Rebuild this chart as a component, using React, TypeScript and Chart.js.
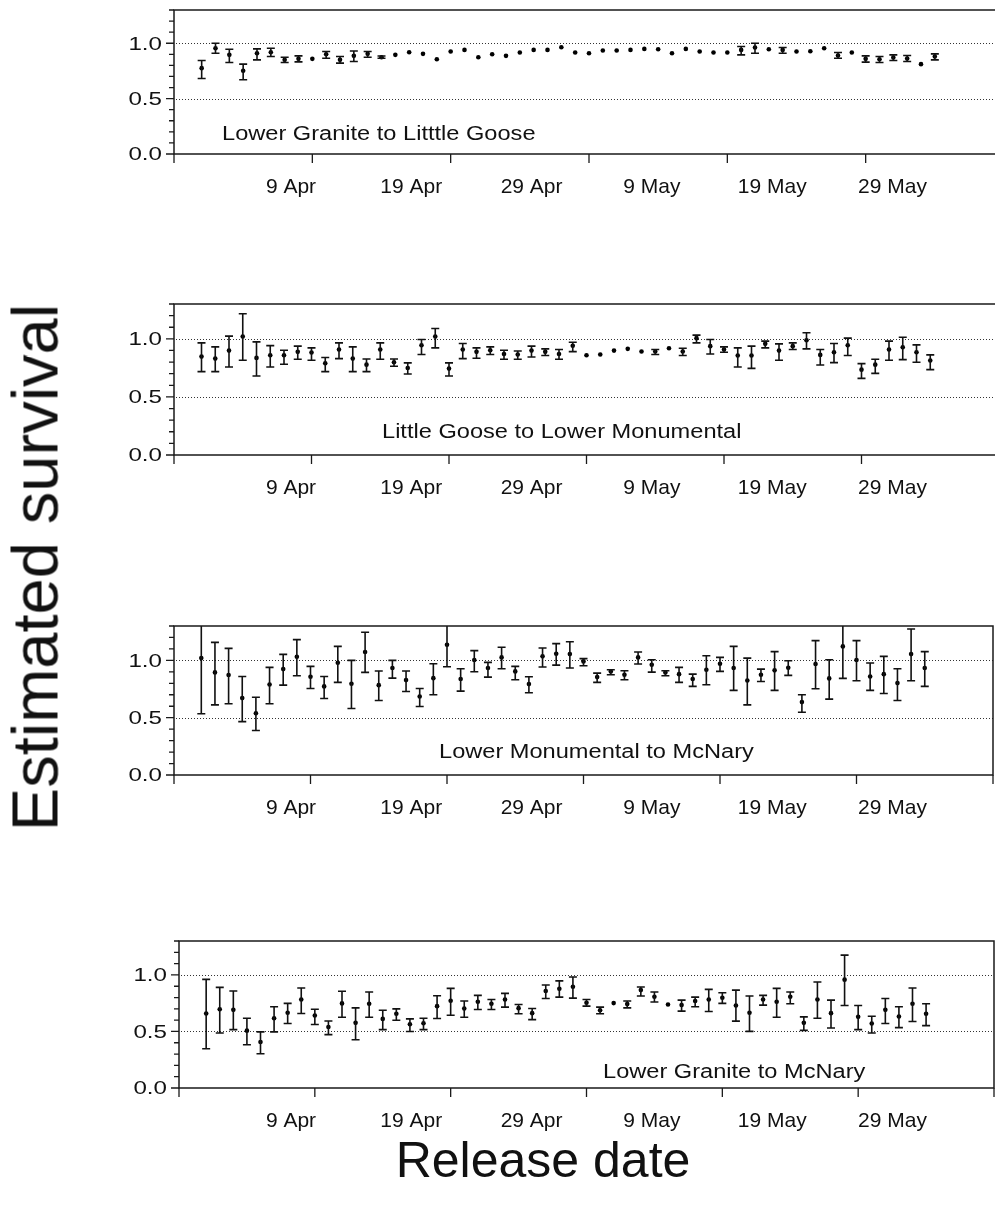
import React, { useEffect, useRef } from "react";
import { Chart, registerables } from "chart.js";

Chart.register(...registerables);

// ---------- data ----------
const releaseDays = [
  2, 3, 4, 5, 6, 7, 8, 9, 10, 11, 12, 13, 14, 15, 16, 17, 18, 19, 20, 21, 22, 23, 24, 25, 26, 27, 28,
  29, 30, 31, 32, 33, 34, 35, 36, 37, 38, 39, 40, 41, 42, 43, 44, 45, 46, 47, 48, 49, 50, 51, 52, 53,
  54, 55,
];

const xTickValues = [0, 10, 20, 30, 40, 50, 60];
const xTickLabels = ["9 Apr", "19 Apr", "29 Apr", "9 May", "19 May", "29 May"];
const yTickLabels = ["0.0", "0.5", "1.0"];
const yLabelValues = [0, 0.5, 1.0];
const refLineValues = [0.5, 1.0];

const panelNames = [
  "Lower Granite to Litttle Goose",
  "Little Goose to Lower Monumental",
  "Lower Monumental to McNary",
  "Lower Granite to McNary",
];

// Panel 1: Lower Granite to Little Goose
const est1 = [
  0.775, 0.955, 0.895, 0.751, 0.91, 0.919, 0.85, 0.859, 0.859, 0.9,
  0.85, 0.886, 0.904, 0.874, 0.895, 0.919, 0.904, 0.856, 0.925, 0.94,
  0.874, 0.9, 0.886, 0.916, 0.94, 0.94, 0.964, 0.916, 0.91, 0.934,
  0.934, 0.94, 0.949, 0.946, 0.91, 0.949, 0.925, 0.916, 0.916, 0.94,
  0.961, 0.946, 0.94, 0.925, 0.928, 0.955, 0.889, 0.916, 0.859, 0.856,
  0.871, 0.862, 0.811, 0.88,
];
const lo1 = [
  0.682, 0.91, 0.826, 0.67, 0.85, 0.88, 0.826, 0.832, 0.859, 0.865,
  0.82, 0.835, 0.874, 0.865, 0.895, 0.919, 0.904, 0.856, 0.925, 0.94,
  0.874, 0.9, 0.886, 0.916, 0.94, 0.94, 0.964, 0.916, 0.91, 0.934,
  0.934, 0.94, 0.949, 0.946, 0.91, 0.949, 0.925, 0.916, 0.916, 0.895,
  0.91, 0.946, 0.91, 0.925, 0.928, 0.955, 0.865, 0.916, 0.829, 0.826,
  0.844, 0.835, 0.811, 0.85,
];
const hi1 = [
  0.844, 1.0, 0.946, 0.811, 0.949, 0.955, 0.874, 0.886, 0.859, 0.925,
  0.88, 0.93, 0.925, 0.885, 0.895, 0.919, 0.904, 0.856, 0.925, 0.94,
  0.874, 0.9, 0.886, 0.916, 0.94, 0.94, 0.964, 0.916, 0.91, 0.934,
  0.934, 0.94, 0.949, 0.946, 0.91, 0.949, 0.925, 0.916, 0.916, 0.97,
  1.0, 0.946, 0.961, 0.925, 0.928, 0.955, 0.916, 0.916, 0.886, 0.88,
  0.895, 0.889, 0.811, 0.904,
];

// Panel 2: Little Goose to Lower Monumental
const est2 = [
  0.847, 0.83, 0.899, 1.02, 0.836, 0.859, 0.859, 0.888, 0.882, 0.79,
  0.908, 0.83, 0.778, 0.908, 0.798, 0.749, 0.945, 1.02, 0.744, 0.908,
  0.888, 0.902, 0.87, 0.865, 0.899, 0.888, 0.87, 0.94, 0.859, 0.865,
  0.899, 0.914, 0.891, 0.891, 0.919, 0.891, 1.006, 0.937, 0.908, 0.856,
  0.856, 0.957, 0.899, 0.937, 0.988, 0.862, 0.885, 0.945, 0.735, 0.778,
  0.908, 0.928, 0.885, 0.813,
];
const lo2 = [
  0.718, 0.718, 0.758, 0.816, 0.68, 0.758, 0.781, 0.824, 0.816, 0.718,
  0.83, 0.718, 0.718, 0.824, 0.764, 0.697, 0.865, 0.922, 0.68, 0.83,
  0.833, 0.865, 0.824, 0.824, 0.844, 0.856, 0.824, 0.89, 0.859, 0.865,
  0.899, 0.914, 0.891, 0.865, 0.919, 0.856, 0.965, 0.87, 0.885, 0.758,
  0.746, 0.922, 0.816, 0.908, 0.914, 0.775, 0.795, 0.856, 0.66, 0.703,
  0.816, 0.821, 0.798, 0.735,
];
const hi2 = [
  0.965, 0.931, 1.023, 1.216, 0.974, 0.942, 0.902, 0.937, 0.922, 0.839,
  0.965, 0.931, 0.827, 0.965, 0.827, 0.793, 0.994, 1.089, 0.793, 0.96,
  0.922, 0.931, 0.902, 0.896, 0.937, 0.914, 0.908, 0.971, 0.859, 0.865,
  0.899, 0.914, 0.891, 0.908, 0.919, 0.919, 1.032, 0.994, 0.931, 0.922,
  0.937, 0.98, 0.957, 0.965, 1.052, 0.908, 0.96, 1.006, 0.787, 0.824,
  0.98, 1.014, 0.948, 0.862,
];

// Panel 3: Lower Monumental to McNary
const est3 = [
  1.02, 0.895, 0.872, 0.671, 0.539, 0.79, 0.924, 1.032, 0.857, 0.773,
  0.98, 0.796, 1.073, 0.784, 0.933, 0.828, 0.685, 0.845, 1.137, 0.837,
  1.003, 0.933, 1.026, 0.904, 0.793, 1.035, 1.058, 1.055, 0.991, 0.854,
  0.904, 0.875, 1.026, 0.962, 0.895, 0.88, 0.837, 0.918, 0.971, 0.933,
  0.825, 0.875, 0.913, 0.936, 0.636, 0.968, 0.843, 1.122, 1.003, 0.86,
  0.88, 0.802, 1.055, 0.933,
];
const lo3 = [
  0.534, 0.612, 0.621, 0.466, 0.388, 0.621, 0.784, 0.866, 0.755, 0.668,
  0.808, 0.58, 0.895, 0.65, 0.845, 0.729, 0.598, 0.7, 0.945, 0.732,
  0.901, 0.854, 0.927, 0.831, 0.717, 0.942, 0.959, 0.933, 0.953, 0.808,
  0.875, 0.831, 0.968, 0.898, 0.866, 0.808, 0.773, 0.787, 0.904, 0.738,
  0.612, 0.816, 0.738, 0.869, 0.548, 0.752, 0.662, 0.843, 0.822, 0.738,
  0.711, 0.65, 0.822, 0.773,
];
const hi3 = [
  1.5, 1.157, 1.105, 0.86, 0.679, 0.939, 1.052, 1.181, 0.948, 0.86,
  1.122, 1.0, 1.245, 0.907, 1.0, 0.907, 0.755, 0.971, 1.5, 0.927,
  1.085, 0.983, 1.114, 0.948, 0.857, 1.108, 1.146, 1.163, 1.015, 0.889,
  0.918, 0.91, 1.073, 1.006, 0.91, 0.939, 0.88, 1.041, 1.026, 1.122,
  1.02, 0.924, 1.076, 0.997, 0.7, 1.172, 1.006, 1.5, 1.172, 0.977,
  1.035, 0.927, 1.274, 1.076,
];

// Panel 4: Lower Granite to McNary
const est4 = [
  0.659, 0.697, 0.691, 0.507, 0.407, 0.617, 0.665, 0.783, 0.641, 0.54,
  0.748, 0.576, 0.745, 0.611, 0.656, 0.564, 0.573, 0.724, 0.772, 0.703,
  0.763, 0.745, 0.783, 0.706, 0.662, 0.858, 0.878, 0.896, 0.754, 0.688,
  0.751, 0.742, 0.866, 0.807, 0.739, 0.733, 0.769, 0.783, 0.798, 0.73,
  0.665, 0.783, 0.763, 0.807, 0.576, 0.783, 0.662, 0.958, 0.629, 0.57,
  0.691, 0.632, 0.745, 0.656,
];
const lo4 = [
  0.347, 0.487, 0.516, 0.383, 0.303, 0.496, 0.57, 0.659, 0.561, 0.472,
  0.626, 0.427, 0.626, 0.516, 0.599, 0.499, 0.516, 0.614, 0.644, 0.626,
  0.694, 0.694, 0.715, 0.656, 0.605, 0.792, 0.804, 0.795, 0.724, 0.656,
  0.751, 0.709, 0.813, 0.76, 0.739, 0.68, 0.718, 0.677, 0.748, 0.591,
  0.501, 0.733, 0.626, 0.745, 0.51, 0.617, 0.531, 0.73, 0.516, 0.487,
  0.57, 0.534, 0.588, 0.552,
];
const hi4 = [
  0.961, 0.89, 0.858, 0.617, 0.496, 0.718, 0.748, 0.884, 0.697, 0.593,
  0.855, 0.709, 0.849, 0.688, 0.7, 0.611, 0.617, 0.816, 0.881, 0.769,
  0.819, 0.783, 0.837, 0.739, 0.703, 0.911, 0.947, 0.982, 0.783, 0.715,
  0.751, 0.769, 0.893, 0.849, 0.739, 0.777, 0.804, 0.872, 0.843, 0.866,
  0.813, 0.819, 0.881, 0.849, 0.629, 0.938, 0.777, 1.175, 0.73, 0.635,
  0.792, 0.718, 0.884, 0.745,
];

// ---------- layout ----------
const FONT = '"Liberation Sans", Arial, Helvetica, sans-serif';
const CANVAS_W = 1012;
const PAD_TOP = 15;
const PAD_BOTTOM = 55;

const panels = [
  { name: panelNames[0], est: est1, lo: lo1, hi: hi1, top: 10, bottom: 154, left: 174, right: 1004, labelDx: 48, labelDy: 130, tickLabelShift: 0 },
  { name: panelNames[1], est: est2, lo: lo2, hi: hi2, top: 304, bottom: 455, left: 174, right: 999, labelDx: 208, labelDy: 134, tickLabelShift: 0 },
  { name: panelNames[2], est: est3, lo: lo3, hi: hi3, top: 626, bottom: 775, left: 174, right: 993, labelDx: 265, labelDy: 132, tickLabelShift: 0 },
  { name: panelNames[3], est: est4, lo: lo4, hi: hi4, top: 941, bottom: 1088, left: 179, right: 994, labelDx: 424, labelDy: 137, tickLabelShift: -5 },
];

function drawText(ctx: CanvasRenderingContext2D, text: string, x: number, y: number, size: number, sx: number, align: CanvasTextAlign) {
  ctx.save();
  ctx.font = `${size}px ${FONT}`;
  ctx.fillStyle = "#111";
  ctx.textBaseline = "alphabetic";
  ctx.textAlign = align;
  ctx.translate(x, y);
  ctx.scale(sx, 1);
  ctx.fillText(text, 0, 0);
  ctx.restore();
}

function makeDecoPlugin(p: any) {
  return {
    id: "deco",
    beforeDatasetsDraw(chart: any) {
      const { ctx, chartArea: a } = chart;
      const y = chart.scales.y;
      ctx.save();
      ctx.strokeStyle = "#333";
      ctx.lineWidth = 1;
      ctx.setLineDash([1, 2]);
      refLineValues.forEach((v) => {
        const py = Math.round(y.getPixelForValue(v)) + 0.5;
        ctx.beginPath();
        ctx.moveTo(a.left + 2, py);
        ctx.lineTo(a.right, py);
        ctx.stroke();
      });
      ctx.restore();
    },
    afterDatasetsDraw(chart: any) {
      const { ctx, chartArea: a } = chart;
      const x = chart.scales.x;
      const y = chart.scales.y;
      ctx.save();
      ctx.beginPath();
      ctx.rect(a.left, a.top, a.right - a.left, a.bottom - a.top);
      ctx.clip();
      ctx.strokeStyle = "#111";
      ctx.lineWidth = 1.6;
      releaseDays.forEach((d, i) => {
        const lo = p.lo[i];
        const hi = p.hi[i];
        if (hi - lo < 0.004) return;
        const px = x.getPixelForValue(d);
        const pl = y.getPixelForValue(lo);
        const ph = y.getPixelForValue(hi);
        ctx.beginPath();
        ctx.moveTo(px, pl);
        ctx.lineTo(px, ph);
        ctx.moveTo(px - 4, pl);
        ctx.lineTo(px + 4, pl);
        ctx.moveTo(px - 4, ph);
        ctx.lineTo(px + 4, ph);
        ctx.stroke();
      });
      ctx.restore();
    },
    afterDraw(chart: any) {
      const { ctx, chartArea: a } = chart;
      const x = chart.scales.x;
      const y = chart.scales.y;
      ctx.save();
      ctx.strokeStyle = "#1a1a1a";
      ctx.lineWidth = 1.5;
      ctx.beginPath();
      ctx.rect(a.left, a.top, a.right - a.left, a.bottom - a.top);
      ctx.stroke();
      ctx.lineWidth = 1.3;
      ctx.beginPath();
      for (let k = 0; k <= 13; k++) {
        const py = y.getPixelForValue(k / 10);
        const len = k % 5 === 0 ? 8 : 5;
        ctx.moveTo(a.left - len, py);
        ctx.lineTo(a.left, py);
      }
      xTickValues.forEach((v) => {
        const px = x.getPixelForValue(v);
        ctx.moveTo(px, a.bottom);
        ctx.lineTo(px, a.bottom + 9);
      });
      ctx.stroke();
      ctx.restore();

      yLabelValues.forEach((v, i) => {
        const py = y.getPixelForValue(v);
        drawText(ctx, yTickLabels[i], a.left - 12, py + 6.3, 17.5, 1.38, "right");
      });
      xTickLabels.forEach((t, i) => {
        drawText(ctx, t, a.left + p.tickLabelShift + 117 + 120.3 * i, a.bottom + 39, 21, 1.0, "center");
      });
      drawText(ctx, p.name, a.left + p.labelDx, a.top + p.labelDy, 20, 1.18, "left");
    },
  };
}

export default function App() {
  const refs = useRef<(HTMLCanvasElement | null)[]>([]);

  useEffect(() => {
    const charts: Chart[] = [];
    panels.forEach((p, idx) => {
      const canvas = refs.current[idx];
      if (!canvas) return;
      const chart = new Chart(canvas, {
        type: "scatter",
        data: {
          datasets: [
            {
              data: releaseDays.map((d, i) => ({ x: d, y: p.est[i] })),
              pointRadius: 2.3,
              pointBackgroundColor: "#000",
              pointBorderWidth: 0,
              pointBorderColor: "#000",
            },
          ],
        },
        options: {
          responsive: false,
          animation: false,
          devicePixelRatio: 1,
          events: [],
          layout: {
            padding: { left: p.left, right: CANVAS_W - p.right, top: PAD_TOP, bottom: PAD_BOTTOM },
          },
          scales: {
            x: { type: "linear", min: 0, max: 60, display: false },
            y: { type: "linear", min: 0, max: 1.3, display: false },
          },
          plugins: { legend: { display: false }, tooltip: { enabled: false } },
        },
        plugins: [makeDecoPlugin(p)],
      } as any);
      charts.push(chart);
    });
    return () => charts.forEach((c) => c.destroy());
  }, []);

  return (
    <div
      style={{
        position: "absolute",
        left: 0,
        top: 0,
        width: 995,
        height: 1205,
        overflow: "hidden",
        background: "#fff",
        fontFamily: FONT,
      }}
    >
      {panels.map((p, i) => {
        const h = p.bottom - p.top + PAD_TOP + PAD_BOTTOM;
        return (
          <canvas
            key={i}
            ref={(el) => {
              refs.current[i] = el;
            }}
            width={CANVAS_W}
            height={h}
            style={{ position: "absolute", left: 0, top: p.top - PAD_TOP, width: CANVAS_W, height: h }}
          />
        );
      })}
      <div
        style={{
          position: "absolute",
          left: 35 - 300,
          top: 567 - 32.5,
          width: 600,
          height: 65,
          lineHeight: "65px",
          fontSize: 65,
          textAlign: "center",
          color: "#111",
          whiteSpace: "nowrap",
          transform: "rotate(-90deg)",
          transformOrigin: "50% 50%",
        }}
      >
        Estimated survival
      </div>
      <div
        style={{
          position: "absolute",
          left: 543 - 250,
          top: 1135,
          width: 500,
          height: 50,
          lineHeight: "50px",
          fontSize: 50,
          textAlign: "center",
          color: "#111",
          whiteSpace: "nowrap",
        }}
      >
        Release date
      </div>
    </div>
  );
}
